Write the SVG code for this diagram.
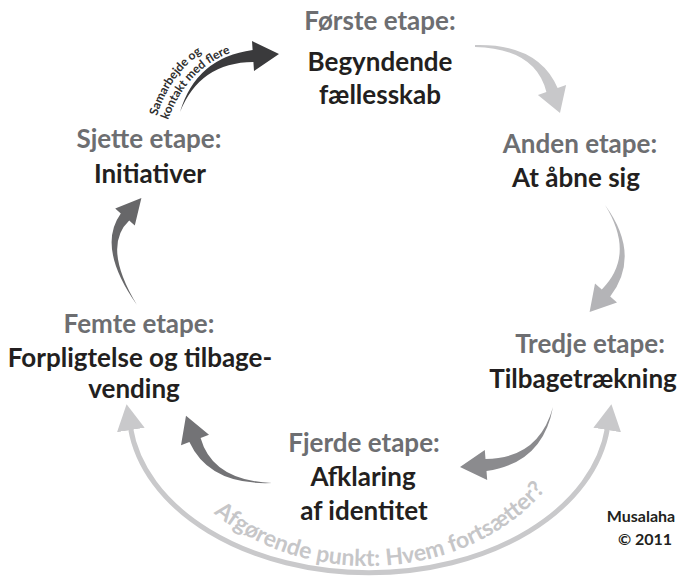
<svg xmlns="http://www.w3.org/2000/svg" width="679" height="576" viewBox="0 0 679 576">
<defs>
<style>
text{font-family:Lato,"Open Sans","Liberation Sans",sans-serif;font-weight:700;}
.t{font-size:26px;fill:#6d6e71;text-anchor:middle;}
.n{font-size:26px;fill:#231f20;text-anchor:middle;}
.c{font-size:16px;fill:#231f20;text-anchor:middle;}
.arc{fill:none;stroke:#c9c9cb;stroke-width:5;}
.small{font-size:12px;fill:#2e2e2e;}
.arctext{font-size:23px;fill:#c6c6c8;}
</style>
<marker id="lh" viewBox="0 0 26 30" refX="2" refY="15" markerWidth="26" markerHeight="30" markerUnits="userSpaceOnUse" orient="auto-start-reverse">
<path d="M0,1 L26,15 L0,29 Z" fill="#c9c9cb"/>
</marker>
<path id="tp1" d="M157,116 Q176,56 232,39"/>
<path id="tp2" d="M168,120 Q190,60 247,48"/>
<path id="tp3" d="M155,395 A213 171 0 0 0 581,395"/>
</defs>
<rect width="679" height="576" fill="#ffffff"/>

<g id="connectors">
<path id="arc-loop" class="arc" d="M130.5,428 A240 163 0 0 0 607.5,428" marker-start="url(#lh)" marker-end="url(#lh)"/>
<path id="a6-1" fill="#3a3a3c" d="M180,112 Q196.2,57.6 252.6,50 L252,41 L279,54 L254,71 L253.4,62 Q199.8,62.4 180,112 Z"/>
<path id="a1-2" fill="#c8c8ca" d="M475,45 Q538.5,43.4 557.6,88 L566.1,85 L560,113 L537.9,95 L546.4,92 Q535.5,48.6 475,47 Z"/>
<path id="a2-3" fill="#b4b4b7" d="M605,205 Q641.6,255 610.2,296.6 L617,302.6 L589.6,312 L595,283.4 L601.8,289.4 Q636,255 605,205 Z"/>
<path id="a3-4" fill="#8b8b8e" d="M553,407 Q542.8,463.1 486.5,471 L487.2,480 L460,467 L484.8,450 L485.5,459 Q538.8,458.5 553,407 Z"/>
<path id="a4-5" fill="#737376" d="M272,483 Q209.5,485.6 189.4,442.1 L181,445.3 L186,415.7 L209,434.7 L200.6,437.9 Q212.5,480.4 272,483 Z"/>
<path id="a5-6" fill="#676769" d="M137,305 Q96.3,247.4 120.8,213.4 L115.2,208.5 L141.4,198 L134.8,225.5 L129.2,220.6 Q101.7,246.6 137,305 Z"/>
<text class="small"><textPath href="#tp1">Samarbejde og</textPath></text>
<text class="small"><textPath href="#tp2">kontakt med flere</textPath></text>
<text class="arctext" text-anchor="middle"><textPath href="#tp3" startOffset="52.7%">Afgørende punkt: Hvem fortsætter?</textPath></text>
</g>

<g id="stage1">
<text class="t" x="380" y="30">Første etape:</text>
<text class="n" x="380" y="71">Begyndende</text>
<text class="n" x="380" y="104">fællesskab</text>
</g>
<g id="stage2">
<text class="t" x="580" y="153">Anden etape:</text>
<text class="n" x="576" y="187">At åbne sig</text>
</g>
<g id="stage3">
<text class="t" x="590" y="353">Tredje etape:</text>
<text class="n" x="583" y="388">Tilbagetrækning</text>
</g>
<g id="stage4">
<text class="t" x="364" y="452">Fjerde etape:</text>
<text class="n" x="363" y="486">Afklaring</text>
<text class="n" x="364" y="520">af identitet</text>
</g>
<g id="stage5">
<text class="t" x="139" y="333">Femte etape:</text>
<text class="n" x="140" y="367">Forpligtelse og tilbage-</text>
<text class="n" x="134" y="398">vending</text>
</g>
<g id="stage6">
<text class="t" x="149" y="148">Sjette etape:</text>
<text class="n" x="150" y="183">Initiativer</text>
</g>
<g id="credit">
<text class="c" x="641" y="522">Musalaha</text>
<text class="c" x="645" y="545">© 2011</text>
</g>
</svg>
